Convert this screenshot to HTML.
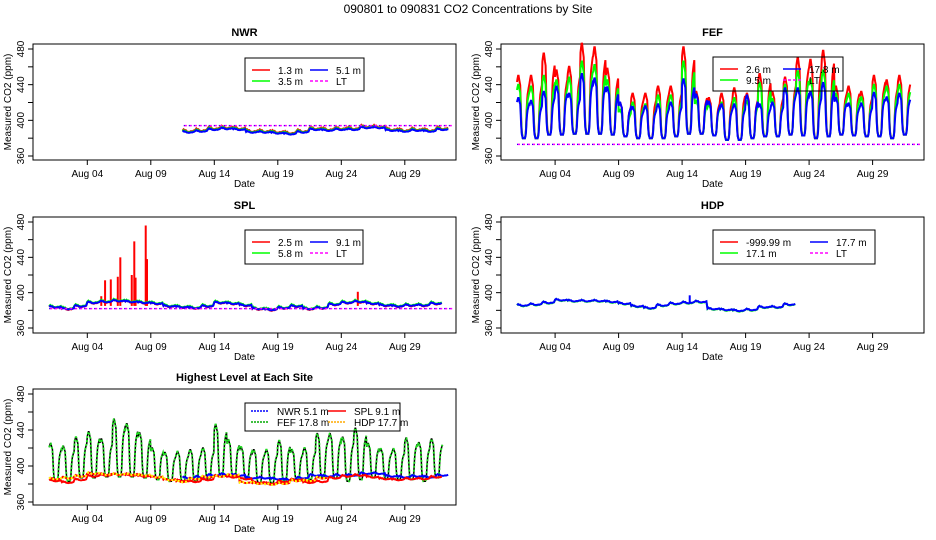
<!DOCTYPE html>
<html><head><meta charset="utf-8">
<style>
html,body{margin:0;padding:0;background:#fff;}
svg{display:block;font-family:"Liberation Sans",sans-serif;}
</style></head>
<body>
<svg id="chart" width="936" height="540" viewBox="0 0 936 540" xmlns="http://www.w3.org/2000/svg">
<rect x="0" y="0" width="936" height="540" fill="#fff"/>
<text x="468" y="13" text-anchor="middle" font-size="12">090801  to  090831 CO2 Concentrations by Site</text>
</svg>
<script>
// ---- data (ppm) ----
const dateLabels = ["Aug 04","Aug 09","Aug 14","Aug 19","Aug 24","Aug 29"];
const dateTickDays = [3,8,13,18,23,28];
const yTicks = [360,380,400,420,440,460,480];
const yTickLabels = ["360","","400","","440","","480"];
// FEF daily night peaks and daytime lows
const fefRed   = [450,450,475,456,460,486,482,458,420,430,430,438,438,482,432,425,430,436,430,452,432,448,470,468,478,438,438,432,450,445,450];
const fefGreen = [440,438,450,445,448,466,462,445,412,420,418,428,428,466,422,418,420,425,422,442,424,440,455,446,456,430,430,426,440,438,440];
const fefBlue  = [425,422,432,438,430,452,447,437,420,415,416,418,420,446,429,421,418,418,428,418,420,436,436,432,442,425,419,419,431,426,430];
const fefLow   = [380,380,384,384,385,385,385,384,382,380,380,380,382,385,385,383,378,378,380,382,382,384,383,380,382,384,383,382,382,380,384];
const fefLT = 373;
// NWR daily levels starting Aug 11 midday
const nwrStartDay = 10.5;
const nwrBlue = [386,387,389,390,389,386,386,385,384,386,389,388,389,389,391,391,388,387,388,387,389];
const nwrLT = 394;
// SPL daily levels
const splBlue = [383,381,384,388,389,390,389,388,387,384,383,382,384,388,387,385,381,380,382,384,381,382,386,388,389,387,385,384,385,385,387];
const splSpikeDays = [4.1,4.4,4.85,5.4,5.6,6.5,6.7,6.8,7.6,7.7,24.3];
const splSpikeVals = [396,414,415,418,440,420,458,417,476,438,401];
const splLT = 382;
// HDP daily levels (Aug 1 - Aug 22)
const hdpBlue = [385,386,388,391,390,390,390,389,387,384,382,385,387,388,389,381,380,379,380,383,383,386];
const hdpSpikeDays = [13.6];
const hdpSpikeVals = [397];
// ---- rendering ----
const NS = "http://www.w3.org/2000/svg";
const svg = document.getElementById('chart');
const MAXDAY = 31.8;
const profile = [0.9,0.95,1,1,0.95,0.9,0.85,0.6,0.3,0.1,0.05,0,0,0,0,0,0.05,0.15,0.4,0.6,0.7,0.75,0.8,0.85];
const smallProf = [0.5,0.7,1,0.8,0.6,0.9,0.7,0.4,0.2,0,0.1,0.3,0,0.2,0.1,0,0.3,0.5,0.2,0.6,0.4,0.8,0.6,0.7];
function mk(tag, name, attrs, parent){
  const el = document.createElementNS(NS, tag);
  
  
  for (const k in attrs) el.setAttribute(k, attrs[k]);
  (parent || svg).appendChild(el);
  return el;
}
function panel(cfg){
  const g = mk('g', cfg.name, {});
  const xs = d => cfg.x0 + d*12.7;
  const ys = v => cfg.y480 + (480-v)*(cfg.y360-cfg.y480)/120;
  cfg.xs = xs; cfg.ys = ys; cfg.g = g;
  const t = mk('text', 'panel-title', {x:(cfg.bx1+cfg.bx2)/2, y:cfg.by1-8, 'text-anchor':'middle','font-size':11,'font-weight':'bold'}, g);
  t.textContent = cfg.title;
  mk('rect','plot-frame',{x:cfg.bx1,y:cfg.by1,width:cfg.bx2-cfg.bx1,height:cfg.by2-cfg.by1,fill:'none',stroke:'#000','stroke-width':1}, g);
  yTicks.forEach((v,i)=>{
    mk('line','y-tick',{x1:cfg.bx1-5,x2:cfg.bx1,y1:ys(v),y2:ys(v),stroke:'#000'}, g);
    if (yTickLabels[i]) {
      const tx = mk('text','y-tick-label',{x:cfg.bx1-9,y:ys(v),'text-anchor':'middle','font-size':10,transform:`rotate(-90 ${cfg.bx1-9} ${ys(v)})`}, g);
      tx.textContent = yTickLabels[i];
    }
  });
  const yl = mk('text','y-axis-title',{x:cfg.bx1-22,y:(cfg.by1+cfg.by2)/2,'text-anchor':'middle','font-size':10,transform:`rotate(-90 ${cfg.bx1-22} ${(cfg.by1+cfg.by2)/2})`}, g);
  yl.textContent = 'Measured CO2 (ppm)';
  dateTickDays.forEach((d,i)=>{
    mk('line','x-tick',{x1:xs(d),x2:xs(d),y1:cfg.by2,y2:cfg.by2+5,stroke:'#000'}, g);
    const tx = mk('text','x-tick-label',{x:xs(d),y:cfg.by2+17,'text-anchor':'middle','font-size':10}, g);
    tx.textContent = dateLabels[i];
  });
  const xl = mk('text','x-axis-title',{x:(cfg.bx1+cfg.bx2)/2,y:cfg.by2+27,'text-anchor':'middle','font-size':10}, g);
  xl.textContent = 'Date';
  return cfg;
}
function diurnal(cfg, name, peaks, lows, color, extra){
  let pts = [];
  peaks.forEach((p,d)=>{
    for (let h=0; h<24; h++){
      const day = d + h/24;
      if (day > MAXDAY) continue;
      const v = lows[d] + (p - lows[d]) * profile[h];
      pts.push(cfg.xs(day).toFixed(1)+','+cfg.ys(v).toFixed(1));
    }
  });
  return mk('polyline', name, Object.assign({points:pts.join(' '),fill:'none',stroke:color,'stroke-width':2}, extra||{}), cfg.g);
}
function flat(cfg, name, levels, start, color, amp, extra){
  let pts = [];
  levels.forEach((lv,i)=>{
    for (let h=0; h<24; h+=2){
      const day = start + i + h/24;
      if (day > MAXDAY) continue;
      const v = lv + amp*smallProf[h];
      pts.push(cfg.xs(day).toFixed(1)+','+cfg.ys(v).toFixed(1));
    }
  });
  return mk('polyline', name, Object.assign({points:pts.join(' '),fill:'none',stroke:color,'stroke-width':2}, extra||{}), cfg.g);
}
function spikes(cfg, name, days, vals, base, color){
  days.forEach((d,i)=>{
    mk('line', name, {x1:cfg.xs(d),x2:cfg.xs(d),y1:cfg.ys(base),y2:cfg.ys(vals[i]),stroke:color,'stroke-width':2}, cfg.g);
  });
}
function ltLine(cfg, v, d1, d2){
  mk('line','lt-line',{x1:cfg.xs(d1),x2:cfg.xs(d2),y1:cfg.ys(v),y2:cfg.ys(v),stroke:'#f0f','stroke-width':1.5,'stroke-dasharray':'3,2'}, cfg.g);
  mk('line','lt-line-dots',{x1:cfg.xs(d1),x2:cfg.xs(d2),y1:cfg.ys(v),y2:cfg.ys(v),stroke:'#00f','stroke-width':1,'stroke-dasharray':'1,4'}, cfg.g);
}
function legend(cfg, box, items){
  const lg = mk('g','legend',{}, cfg.g);
  mk('rect','legend-box',{x:box[0],y:box[1],width:box[2]-box[0],height:box[3]-box[1],fill:'none',stroke:'#000'}, lg);
  items.forEach(it=>{
    mk('line','legend-swatch',{x1:it.x,x2:it.x+18,y1:it.y,y2:it.y,stroke:it.c,'stroke-width':1.5,'stroke-dasharray':it.dash||'none'}, lg);
    const t = mk('text','legend-label',{x:it.x+26,y:it.y+4,'font-size':10}, lg);
    t.textContent = it.t;
  });
}
function fourLegend(cfg, box, labels, colx2){
  const x1 = box[0]+7, r1 = box[1]+12, r2 = box[1]+23;
  legend(cfg, box, [
    {x:x1,y:r1,c:'#f00',t:labels[0]},{x:x1,y:r2,c:'#0f0',t:labels[1]},
    {x:colx2,y:r1,c:'#00f',t:labels[2]},{x:colx2,y:r2,c:'#f0f',t:'LT',dash:'3,2'}]);
}
// NWR
const pN = panel({name:'panel-nwr',title:'NWR',x0:49.2,bx1:33,bx2:456,by1:44,by2:160,y480:49,y360:156});
flat(pN,'series-nwr-1-3m',nwrBlue.map(v=>v+1),nwrStartDay,'#f00',3);
flat(pN,'series-nwr-3-5m',nwrBlue.map(v=>v+0.5),nwrStartDay,'#0f0',2.5);
flat(pN,'series-nwr-5-1m',nwrBlue,nwrStartDay,'#00f',2);
ltLine(pN,nwrLT,nwrStartDay+0.1,31.8);
fourLegend(pN,[245,58,364,91],['1.3 m','3.5 m','5.1 m'],310);
// FEF
const pF = panel({name:'panel-fef',title:'FEF',x0:517,bx1:501,bx2:924,by1:44,by2:160,y480:49,y360:156});
diurnal(pF,'series-fef-2-6m',fefRed,fefLow,'#f00');
diurnal(pF,'series-fef-9-5m',fefGreen,fefLow,'#0f0');
diurnal(pF,'series-fef-17-8m',fefBlue,fefLow,'#00f');
ltLine(pF,fefLT,0,31.8);
fourLegend(pF,[713,57,843,91],['2.6 m','9.5 m','17.8 m'],783);
// SPL
const pS = panel({name:'panel-spl',title:'SPL',x0:49.2,bx1:33,bx2:456,by1:217,by2:333,y480:222,y360:328});
spikes(pS,'spike-spl-2-5m',splSpikeDays,splSpikeVals,385,'#f00');
flat(pS,'series-spl-2-5m',splBlue.map(v=>v-0.5),0,'#f00',3);
flat(pS,'series-spl-5-8m',splBlue.map(v=>v+0.5),0,'#0f0',2.5);
flat(pS,'series-spl-9-1m',splBlue,0,'#00f',2);
ltLine(pS,splLT,0,31.8);
fourLegend(pS,[245,230,363,264],['2.5 m','5.8 m','9.1 m'],310);
// HDP
const pH = panel({name:'panel-hdp',title:'HDP',x0:517,bx1:501,bx2:924,by1:217,by2:333,y480:222,y360:328});
flat(pH,'series-hdp-17-1m',hdpBlue.map(v=>v-0.5),0,'#0f0',2.5);
flat(pH,'series-hdp-17-7m',hdpBlue,0,'#00f',2);
spikes(pH,'spike-hdp-17-7m',hdpSpikeDays,hdpSpikeVals,388,'#00f');
fourLegend(pH,[713,230,875,264],['-999.99 m','17.1 m','17.7 m'],810);
// Highest level
const pA = panel({name:'panel-highest',title:'Highest Level at Each Site',x0:49.2,bx1:33,bx2:456,by1:389,by2:505,y480:394,y360:502});
diurnal(pA,'series-fef-highest-bg',fefBlue,fefLow.map(v=>v+3),'#000',{'stroke-width':1.5});
diurnal(pA,'series-fef-highest',fefBlue,fefLow.map(v=>v+3),'#2d2',{'stroke-dasharray':'2,2'});
flat(pA,'series-nwr-highest',nwrBlue,nwrStartDay,'#00f',2);
flat(pA,'series-spl-highest',splBlue,0,'#f00',2);
flat(pA,'series-hdp-highest-bg',hdpBlue,0,'#f00',2);
flat(pA,'series-hdp-highest',hdpBlue,0,'#ff0',2,{'stroke-dasharray':'2,2'});
legend(pA,[245,403,400,431],[
  {x:251,y:411,c:'#00f',t:'NWR   5.1 m',dash:'2,1'},{x:251,y:422,c:'#0a0',t:'FEF   17.8 m',dash:'2,1'},
  {x:328,y:411,c:'#f00',t:'SPL   9.1 m'},{x:328,y:422,c:'#fa0',t:'HDP   17.7 m',dash:'2,1'}]);
</script>
</body></html>
